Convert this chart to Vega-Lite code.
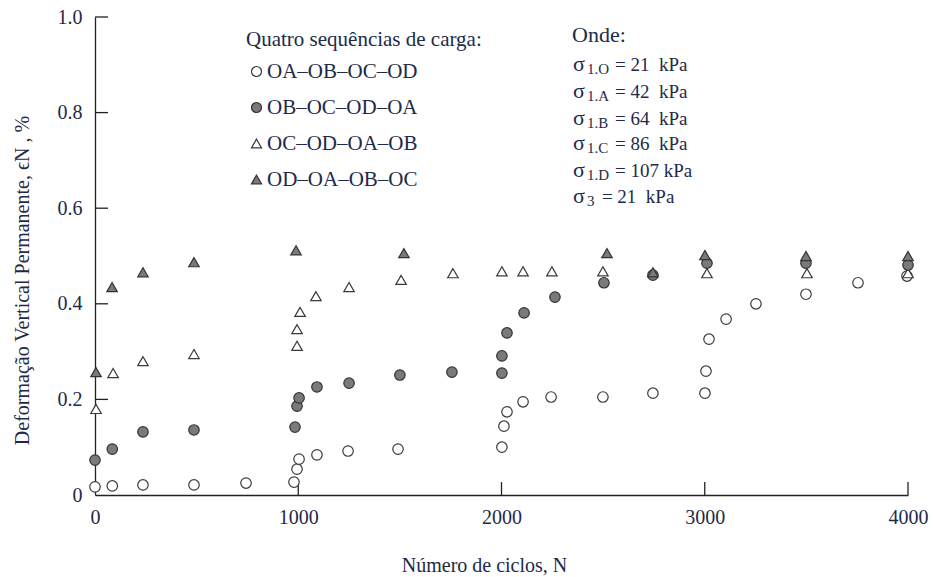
{
  "$schema": "https://vega.github.io/schema/vega-lite/v6.json",
  "width": 813,
  "height": 478,
  "autosize": {"type": "none"},
  "padding": {"left": 95, "top": 17, "right": 25, "bottom": 82},
  "background": "white",
  "config": {
    "font": "Liberation Serif, DejaVu Serif, serif",
    "view": {"stroke": null},
    "axis": {
      "grid": false,
      "ticks": false,
      "domainColor": "#222222",
      "domainWidth": 1.3,
      "labelColor": "#1e2a48",
      "titleColor": "#1e2a48",
      "labelFont": "Liberation Serif, DejaVu Serif, serif",
      "titleFont": "Liberation Serif, DejaVu Serif, serif",
      "labelFontSize": 20,
      "titleFontSize": 20,
      "titleFontWeight": "normal"
    },
    "text": {"font": "Liberation Serif, DejaVu Serif, serif", "color": "#1e2a48"}
  },
  "datasets": {
    "pts": [
      {"seq": "OA–OB–OC–OD", "N": 0, "eps": 0.017},
      {"seq": "OA–OB–OC–OD", "N": 85, "eps": 0.019},
      {"seq": "OA–OB–OC–OD", "N": 236, "eps": 0.021},
      {"seq": "OA–OB–OC–OD", "N": 487, "eps": 0.021},
      {"seq": "OA–OB–OC–OD", "N": 743, "eps": 0.025},
      {"seq": "OA–OB–OC–OD", "N": 979, "eps": 0.027},
      {"seq": "OA–OB–OC–OD", "N": 994, "eps": 0.054},
      {"seq": "OA–OB–OC–OD", "N": 1004, "eps": 0.075},
      {"seq": "OA–OB–OC–OD", "N": 1092, "eps": 0.084},
      {"seq": "OA–OB–OC–OD", "N": 1245, "eps": 0.092},
      {"seq": "OA–OB–OC–OD", "N": 1491, "eps": 0.096},
      {"seq": "OA–OB–OC–OD", "N": 2002, "eps": 0.1},
      {"seq": "OA–OB–OC–OD", "N": 2012, "eps": 0.144},
      {"seq": "OA–OB–OC–OD", "N": 2027, "eps": 0.174},
      {"seq": "OA–OB–OC–OD", "N": 2106, "eps": 0.195},
      {"seq": "OA–OB–OC–OD", "N": 2244, "eps": 0.205},
      {"seq": "OA–OB–OC–OD", "N": 2499, "eps": 0.205},
      {"seq": "OA–OB–OC–OD", "N": 2745, "eps": 0.213},
      {"seq": "OA–OB–OC–OD", "N": 3001, "eps": 0.213},
      {"seq": "OA–OB–OC–OD", "N": 3006, "eps": 0.259},
      {"seq": "OA–OB–OC–OD", "N": 3021, "eps": 0.326},
      {"seq": "OA–OB–OC–OD", "N": 3105, "eps": 0.368},
      {"seq": "OA–OB–OC–OD", "N": 3252, "eps": 0.4},
      {"seq": "OA–OB–OC–OD", "N": 3498, "eps": 0.42},
      {"seq": "OA–OB–OC–OD", "N": 3754, "eps": 0.444},
      {"seq": "OA–OB–OC–OD", "N": 3995, "eps": 0.458},
      {"seq": "OC–OD–OA–OB", "N": 5, "eps": 0.18},
      {"seq": "OC–OD–OA–OB", "N": 89, "eps": 0.255},
      {"seq": "OC–OD–OA–OB", "N": 236, "eps": 0.28},
      {"seq": "OC–OD–OA–OB", "N": 487, "eps": 0.295},
      {"seq": "OC–OD–OA–OB", "N": 994, "eps": 0.312},
      {"seq": "OC–OD–OA–OB", "N": 994, "eps": 0.347},
      {"seq": "OC–OD–OA–OB", "N": 1009, "eps": 0.383},
      {"seq": "OC–OD–OA–OB", "N": 1087, "eps": 0.416},
      {"seq": "OC–OD–OA–OB", "N": 1250, "eps": 0.435},
      {"seq": "OC–OD–OA–OB", "N": 1506, "eps": 0.45},
      {"seq": "OC–OD–OA–OB", "N": 1761, "eps": 0.464},
      {"seq": "OC–OD–OA–OB", "N": 2002, "eps": 0.468},
      {"seq": "OC–OD–OA–OB", "N": 2106, "eps": 0.468},
      {"seq": "OC–OD–OA–OB", "N": 2248, "eps": 0.468},
      {"seq": "OC–OD–OA–OB", "N": 2499, "eps": 0.468},
      {"seq": "OC–OD–OA–OB", "N": 3011, "eps": 0.464},
      {"seq": "OC–OD–OA–OB", "N": 3503, "eps": 0.464},
      {"seq": "OC–OD–OA–OB", "N": 4000, "eps": 0.464},
      {"seq": "OB–OC–OD–OA", "N": 0, "eps": 0.073},
      {"seq": "OB–OC–OD–OA", "N": 85, "eps": 0.096},
      {"seq": "OB–OC–OD–OA", "N": 236, "eps": 0.132},
      {"seq": "OB–OC–OD–OA", "N": 487, "eps": 0.136},
      {"seq": "OB–OC–OD–OA", "N": 984, "eps": 0.142},
      {"seq": "OB–OC–OD–OA", "N": 994, "eps": 0.186},
      {"seq": "OB–OC–OD–OA", "N": 1004, "eps": 0.203},
      {"seq": "OB–OC–OD–OA", "N": 1092, "eps": 0.226},
      {"seq": "OB–OC–OD–OA", "N": 1250, "eps": 0.234},
      {"seq": "OB–OC–OD–OA", "N": 1500, "eps": 0.251},
      {"seq": "OB–OC–OD–OA", "N": 1756, "eps": 0.257},
      {"seq": "OB–OC–OD–OA", "N": 2002, "eps": 0.255},
      {"seq": "OB–OC–OD–OA", "N": 2002, "eps": 0.291},
      {"seq": "OB–OC–OD–OA", "N": 2027, "eps": 0.339},
      {"seq": "OB–OC–OD–OA", "N": 2111, "eps": 0.381},
      {"seq": "OB–OC–OD–OA", "N": 2263, "eps": 0.414},
      {"seq": "OB–OC–OD–OA", "N": 2504, "eps": 0.444},
      {"seq": "OB–OC–OD–OA", "N": 2745, "eps": 0.46},
      {"seq": "OB–OC–OD–OA", "N": 3011, "eps": 0.485},
      {"seq": "OB–OC–OD–OA", "N": 3498, "eps": 0.485},
      {"seq": "OB–OC–OD–OA", "N": 4000, "eps": 0.481},
      {"seq": "OD–OA–OB–OC", "N": 5, "eps": 0.257},
      {"seq": "OD–OA–OB–OC", "N": 84, "eps": 0.435},
      {"seq": "OD–OA–OB–OC", "N": 236, "eps": 0.466},
      {"seq": "OD–OA–OB–OC", "N": 487, "eps": 0.487},
      {"seq": "OD–OA–OB–OC", "N": 989, "eps": 0.512},
      {"seq": "OD–OA–OB–OC", "N": 1520, "eps": 0.506},
      {"seq": "OD–OA–OB–OC", "N": 2519, "eps": 0.506},
      {"seq": "OD–OA–OB–OC", "N": 2745, "eps": 0.466},
      {"seq": "OD–OA–OB–OC", "N": 3001, "eps": 0.502},
      {"seq": "OD–OA–OB–OC", "N": 3498, "eps": 0.5},
      {"seq": "OD–OA–OB–OC", "N": 4000, "eps": 0.5}
    ],
    "xticks": [{"N": 1000}, {"N": 2000}, {"N": 3000}, {"N": 4000}],
    "yticks": [{"eps": 0.2}, {"eps": 0.4}, {"eps": 0.6}, {"eps": 0.8}, {"eps": 1.0}],
    "onde": [
      {"t": "Onde:", "N": 2347, "eps": 0.948}
    ],
    "sig": [
      {"sub": "1.O", "val": "= 21\u00a0\u00a0kPa", "eps": 0.886},
      {"sub": "1.A", "val": "= 42\u00a0\u00a0kPa", "eps": 0.831},
      {"sub": "1.B", "val": "= 64\u00a0\u00a0kPa", "eps": 0.774},
      {"sub": "1.C", "val": "= 86\u00a0\u00a0kPa", "eps": 0.722},
      {"sub": "1.D", "val": "= 107 kPa", "eps": 0.665}
    ],
    "sig3": [
      {"sub": "3", "val": "= 21\u00a0\u00a0kPa", "eps": 0.611}
    ]
  },
  "layer": [
    {
      "data": {"name": "xticks"},
      "mark": {"type": "rule", "color": "#222222", "strokeWidth": 1.3},
      "encoding": {
        "x": {"field": "N", "type": "quantitative"},
        "y": {"datum": 0, "type": "quantitative"},
        "y2": {"datum": 0.027}
      }
    },
    {
      "data": {"name": "yticks"},
      "mark": {"type": "rule", "color": "#222222", "strokeWidth": 1.3},
      "encoding": {
        "y": {"field": "eps", "type": "quantitative"},
        "x": {"datum": 0, "type": "quantitative"},
        "x2": {"datum": 64}
      }
    },
    {
      "data": {"name": "pts"},
      "mark": {"type": "point", "filled": true, "strokeWidth": 1.2, "opacity": 1, "size": 110},
      "encoding": {
        "x": {
          "field": "N", "type": "quantitative",
          "scale": {"domain": [0, 4000], "nice": false, "zero": false},
          "axis": {
            "values": [0, 1000, 2000, 3000, 4000],
            "format": "d",
            "labelPadding": 12,
            "labelFlush": false,
            "title": "Número de ciclos, N",
            "titleX": 389,
            "titleY": 70,
            "titleBaseline": "middle",
            "titleAlign": "center"
          }
        },
        "y": {
          "field": "eps", "type": "quantitative",
          "scale": {"domain": [0, 1], "nice": false},
          "axis": {
            "values": [0, 0.2, 0.4, 0.6, 0.8, 1.0],
            "labelExpr": "datum.value === 0 ? '0' : format(datum.value, '.1f')",
            "labelPadding": 13,
            "labelFlush": false,
            "title": "Deformação Vertical Permanente, ϵN , %",
            "titleX": -73,
            "titleY": 263,
            "titleAngle": -90,
            "titleAlign": "center",
            "titleBaseline": "middle"
          }
        },
        "shape": {
          "field": "seq", "type": "nominal",
          "scale": {"domain": ["OA–OB–OC–OD", "OB–OC–OD–OA", "OC–OD–OA–OB", "OD–OA–OB–OC"], "range": ["circle", "circle", "triangle-up", "triangle-up"]},
          "legend": {
            "title": "Quatro sequências de carga:",
            "orient": "none", "legendX": 151, "legendY": 12,
            "titleFont": "Liberation Serif, DejaVu Serif, serif", "titleFontSize": 21, "titleFontWeight": "normal", "titleColor": "#1e2a48", "titleLimit": 500,
            "labelFont": "Liberation Serif, DejaVu Serif, serif", "labelFontSize": 21, "labelColor": "#1e2a48", "labelLimit": 500,
            "symbolSize": 100, "symbolStrokeWidth": 1.2,
            "rowPadding": 14, "labelOffset": 0, "titlePadding": 11, "padding": 0
          }
        },
        "fill": {
          "field": "seq", "type": "nominal",
          "scale": {"domain": ["OA–OB–OC–OD", "OB–OC–OD–OA", "OC–OD–OA–OB", "OD–OA–OB–OC"], "range": ["#ffffff", "#7a7a7a", "#ffffff", "#7a7a7a"]},
          "legend": {
            "title": "Quatro sequências de carga:",
            "orient": "none", "legendX": 151, "legendY": 12,
            "titleFont": "Liberation Serif, DejaVu Serif, serif", "titleFontSize": 21, "titleFontWeight": "normal", "titleColor": "#1e2a48", "titleLimit": 500,
            "labelFont": "Liberation Serif, DejaVu Serif, serif", "labelFontSize": 21, "labelColor": "#1e2a48", "labelLimit": 500,
            "symbolSize": 100, "symbolStrokeWidth": 1.2,
            "rowPadding": 14, "labelOffset": 0, "titlePadding": 11, "padding": 0
          }
        },
        "stroke": {
          "field": "seq", "type": "nominal",
          "scale": {"domain": ["OA–OB–OC–OD", "OB–OC–OD–OA", "OC–OD–OA–OB", "OD–OA–OB–OC"], "range": ["#3a3a3a", "#333333", "#3a3a3a", "#333333"]},
          "legend": {
            "title": "Quatro sequências de carga:",
            "orient": "none", "legendX": 151, "legendY": 12,
            "titleFont": "Liberation Serif, DejaVu Serif, serif", "titleFontSize": 21, "titleFontWeight": "normal", "titleColor": "#1e2a48", "titleLimit": 500,
            "labelFont": "Liberation Serif, DejaVu Serif, serif", "labelFontSize": 21, "labelColor": "#1e2a48", "labelLimit": 500,
            "symbolSize": 100, "symbolStrokeWidth": 1.2,
            "rowPadding": 14, "labelOffset": 0, "titlePadding": 11, "padding": 0
          }
        }
      }
    },
    {
      "data": {"name": "onde"},
      "mark": {"type": "text", "align": "left", "baseline": "alphabetic", "fontSize": 22},
      "encoding": {
        "x": {"field": "N", "type": "quantitative"},
        "y": {"field": "eps", "type": "quantitative"},
        "text": {"field": "t"}
      }
    },
    {
      "data": {"name": "sig"},
      "mark": {"type": "text", "align": "left", "baseline": "alphabetic", "fontSize": 22},
      "encoding": {
        "x": {"datum": 2352, "type": "quantitative"},
        "y": {"field": "eps", "type": "quantitative"},
        "text": {"value": "σ"}
      }
    },
    {
      "data": {"name": "sig"},
      "mark": {"type": "text", "align": "left", "baseline": "alphabetic", "fontSize": 15, "dy": 3},
      "encoding": {
        "x": {"datum": 2421, "type": "quantitative"},
        "y": {"field": "eps", "type": "quantitative"},
        "text": {"field": "sub"}
      }
    },
    {
      "data": {"name": "sig"},
      "mark": {"type": "text", "align": "left", "baseline": "alphabetic", "fontSize": 19},
      "encoding": {
        "x": {"datum": 2558, "type": "quantitative"},
        "y": {"field": "eps", "type": "quantitative"},
        "text": {"field": "val"}
      }
    },
    {
      "data": {"name": "sig3"},
      "mark": {"type": "text", "align": "left", "baseline": "alphabetic", "fontSize": 22},
      "encoding": {
        "x": {"datum": 2352, "type": "quantitative"},
        "y": {"field": "eps", "type": "quantitative"},
        "text": {"value": "σ"}
      }
    },
    {
      "data": {"name": "sig3"},
      "mark": {"type": "text", "align": "left", "baseline": "alphabetic", "fontSize": 15, "dy": 3},
      "encoding": {
        "x": {"datum": 2421, "type": "quantitative"},
        "y": {"field": "eps", "type": "quantitative"},
        "text": {"field": "sub"}
      }
    },
    {
      "data": {"name": "sig3"},
      "mark": {"type": "text", "align": "left", "baseline": "alphabetic", "fontSize": 19},
      "encoding": {
        "x": {"datum": 2494, "type": "quantitative"},
        "y": {"field": "eps", "type": "quantitative"},
        "text": {"field": "val"}
      }
    }
  ]
}
